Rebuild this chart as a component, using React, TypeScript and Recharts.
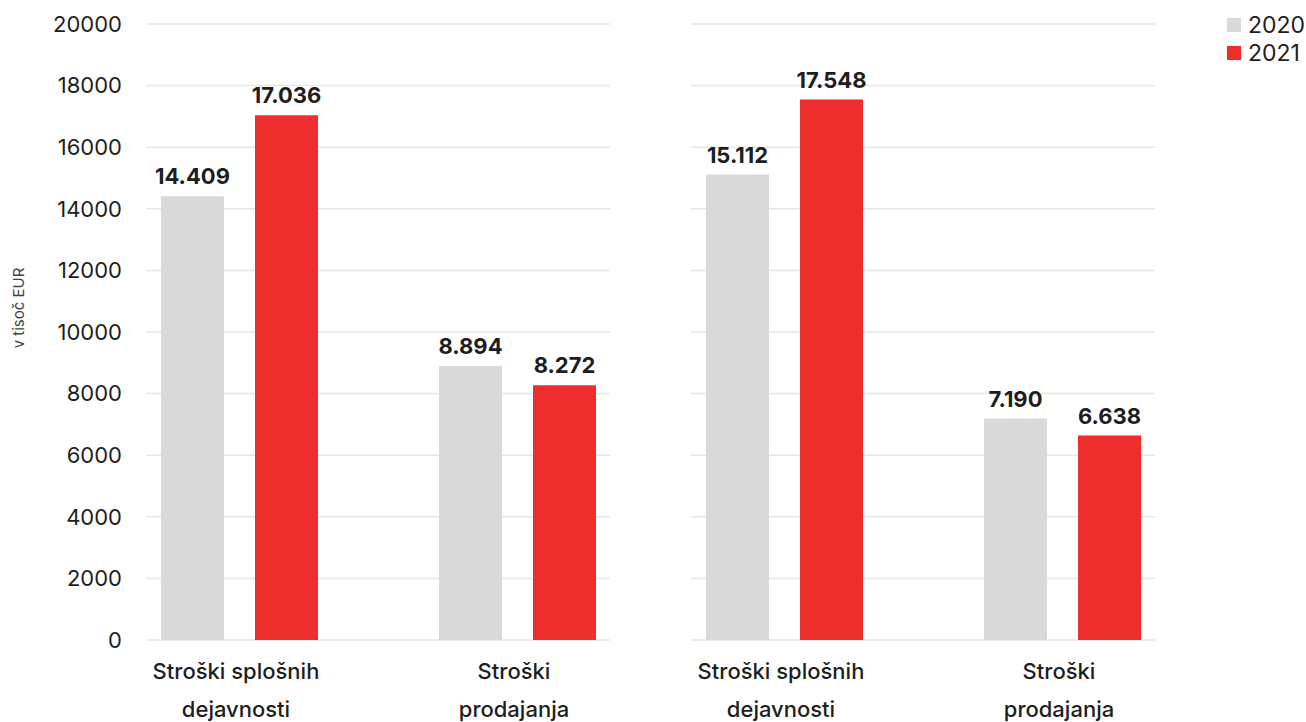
import React from 'react';
import { BarChart, Bar, XAxis, YAxis, CartesianGrid, LabelList, Legend } from 'recharts';

const categories = ['Stroški splošnih dejavnosti', 'Stroški prodajanja'];
const categoryLines: Record<string, string[]> = {
  'Stroški splošnih dejavnosti': ['Stroški splošnih', 'dejavnosti'],
  'Stroški prodajanja': ['Stroški', 'prodajanja'],
};
const series = ['2020', '2021'];
const leftValues2020 = [14409, 8894];
const leftValues2021 = [17036, 8272];
const rightValues2020 = [15112, 7190];
const rightValues2021 = [17548, 6638];
const yTicks = [0, 2000, 4000, 6000, 8000, 10000, 12000, 14000, 16000, 18000, 20000];
const yLabel = 'v tisoč EUR';

const FONT = 'Inter, "Noto Sans", sans-serif';
const TEXT = '#1e1e1e';
const GRAY = '#d9d9d9';
const RED = '#ee2e2c';

const build = (a: number[], b: number[]) =>
  categories.map((c, i) => ({ name: c, [series[0]]: a[i], [series[1]]: b[i] }));

const leftData = build(leftValues2020, leftValues2021);
const rightData = build(rightValues2020, rightValues2021);

const fmt = (v: number) => String(v).replace(/\B(?=(\d{3})+(?!\d))/g, '.');

const CategoryTick = (props: any) => {
  const { x, y, payload } = props;
  const lines = categoryLines[payload.value] || [payload.value];
  return (
    <text x={x} y={y} textAnchor="middle" fill={TEXT} fontSize={22} fontWeight={500} fontFamily={FONT}>
      {lines.map((l, i) => (
        <tspan key={i} x={x - 3} y={y + 31 + i * 38}>{l}</tspan>
      ))}
    </text>
  );
};

const renderLegend = (props: any) => (
  <div style={{ fontFamily: FONT, color: TEXT }}>
    {(props.payload || []).map((p: any) => (
      <div key={p.value} style={{ display: 'flex', alignItems: 'center', height: 28, fontSize: 23 }}>
        <span style={{ width: 14, height: 14, background: p.color, marginRight: 7, display: 'inline-block' }} />
        {p.value}
      </div>
    ))}
  </div>
);

const axisPad = { left: -46, right: -46 };

const labelStyle = { fill: TEXT, fontSize: 22, fontWeight: 700, fontFamily: FONT };

const bars = [
  <Bar key="a" dataKey={series[0]} fill={GRAY} barSize={63} isAnimationActive={false}>
    <LabelList dataKey={series[0]} position="top" offset={12} formatter={(v: any) => fmt(v)} style={labelStyle} />
  </Bar>,
  <Bar key="b" dataKey={series[1]} fill={RED} barSize={63} isAnimationActive={false}>
    <LabelList dataKey={series[1]} position="top" offset={12} formatter={(v: any) => fmt(v)} style={labelStyle} />
  </Bar>,
];

export default function App() {
  return (
    <div style={{ position: 'absolute', left: 0, top: 0, width: 1306, height: 722, background: '#fff', fontFamily: FONT }}>
      <div style={{ position: 'absolute', left: 0, top: 0 }}>
        <BarChart width={640} height={722} data={leftData} barGap={31}
          margin={{ top: 24, right: 30, bottom: 0, left: 0 }}>
          <CartesianGrid vertical={false} stroke="#e6e6e6" strokeWidth={1.5} />
          <XAxis dataKey="name" padding={axisPad} height={82} axisLine={false} tickLine={false}
            tick={<CategoryTick />} interval={0} />
          <YAxis width={146} domain={[0, 20000]} ticks={yTicks} axisLine={false} tickLine={false}
            tickMargin={18} interval={0}
            tick={{ fill: TEXT, fontSize: 22, fontFamily: FONT }}
            label={{
              content: () => (
                <text x={24} y={308} transform="rotate(-90 24 308)" textAnchor="middle"
                  fill="#444" fontSize={15} fontFamily={FONT}>{yLabel}</text>
              ),
            }} />
          {bars}
        </BarChart>
      </div>
      <div style={{ position: 'absolute', left: 640, top: 0 }}>
        <BarChart width={666} height={722} data={rightData} barGap={31}
          margin={{ top: 24, right: 151, bottom: 0, left: 51 }}>
          <CartesianGrid vertical={false} stroke="#e6e6e6" strokeWidth={1.5} />
          <XAxis dataKey="name" padding={axisPad} height={82} axisLine={false} tickLine={false}
            tick={<CategoryTick />} interval={0} />
          <YAxis hide domain={[0, 20000]} ticks={yTicks} />
          <Legend layout="vertical" align="center" verticalAlign="middle" content={renderLegend}
            wrapperStyle={{ top: 11, left: 587, width: 'auto' }} />
          {bars}
        </BarChart>
      </div>
    </div>
  );
}
